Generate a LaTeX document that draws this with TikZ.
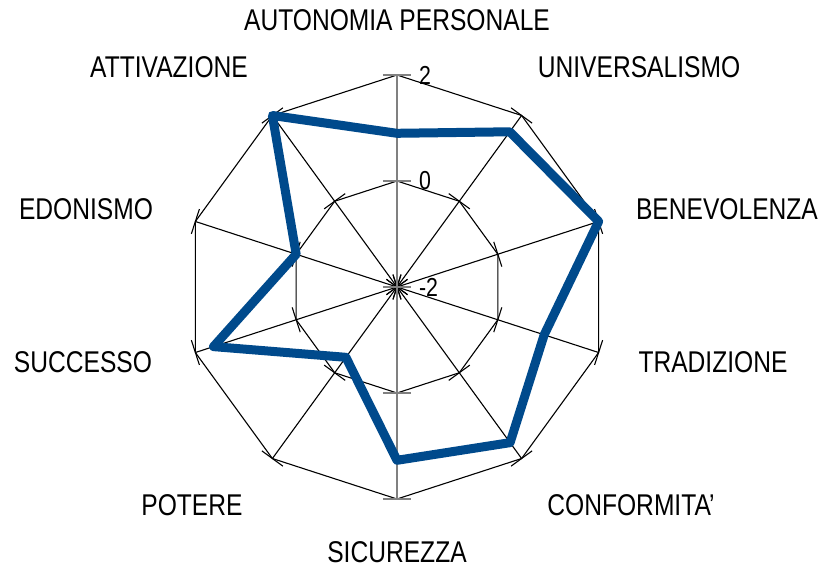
\documentclass[tikz,border=0pt]{standalone}
\usepackage{fontspec}
\setmainfont{Liberation Sans}[FakeStretch=0.82]
\definecolor{seriesblue}{RGB}{0,74,140}

\begin{document}
\begin{tikzpicture}[x=0.5pt,y=0.5pt,
	webline/.style={line width=0.55pt},
	vaxis/.style={line width=0.8pt, draw=gray},
	series/.style={draw=seriesblue, line width=4.5pt, line join=round},
	dim/.style={font=\fontsize{13}{15}\selectfont, anchor=west},
	catlabel/.style={font=\fontsize{15}{18}\selectfont}]
	\useasboundingbox (-397,-281) rectangle (424,287);
	\coordinate (o) at (0,0);
	\foreach \i in {0,...,9} {
		\coordinate (in\i) at ({90-36*\i}:106);
		\coordinate (out\i) at ({90-36*\i}:212);
	}
	% rings
	\draw [webline] (in0) \foreach \i in {1,...,9} {-- (in\i)} -- cycle;
	\draw [webline] (out0) \foreach \i in {1,...,9} {-- (out\i)} -- cycle;
	% axes and ticks
	\foreach \i in {1,2,3,4,6,7,8,9} {
		\draw [webline] (o) -- (out\i);
		\foreach \r in {0,106,212}
			\draw [webline, rotate={90-36*\i}] (\r,-13) -- (\r,13);
	}
	\draw [vaxis] (out5) -- (out0);
	\foreach \r in {0,106,212} {
		\draw [vaxis] (-14,\r) -- (14,\r);
		\draw [vaxis] (-14,-\r) -- (14,-\r);
	}
	\node [dim] (t2) at (15,212) {2};
	\node [dim] (t0) at (15,106) {0};
	\node [dim] (tm2) at (15,0) {-2};
	% data
	\foreach \i/\v in {0/0.9, 1/1.62, 2/2, 3/0.92, 4/1.63, 5/1.27, 6/-0.36, 7/1.64, 8/0, 9/2}
		\coordinate (d\i) at ({90-36*\i}:{53*(\v+2)});
	\draw [series] (d0) -- (d1) -- (d2) -- (d3) -- (d4) -- (d5) -- (d6) -- (d7) -- (d8) -- (d9) -- cycle;
	% labels
	\node [catlabel] (autonomia) at (0,267) {AUTONOMIA PERSONALE};
	\node [catlabel] (universalismo) at (242,220) {UNIVERSALISMO};
	\node [catlabel] (benevolenza) at (330,78) {BENEVOLENZA};
	\node [catlabel] (tradizione) at (316,-75) {TRADIZIONE};
	\node [catlabel] (conformita) at (234,-218) {CONFORMITA'};
	\node [catlabel] (sicurezza) at (0,-265) {SICUREZZA};
	\node [catlabel] (potere) at (-205,-218) {POTERE};
	\node [catlabel] (successo) at (-314,-75) {SUCCESSO};
	\node [catlabel] (edonismo) at (-311,78) {EDONISMO};
	\node [catlabel] (attivazione) at (-228,220) {ATTIVAZIONE};
\end{tikzpicture}
\end{document}
